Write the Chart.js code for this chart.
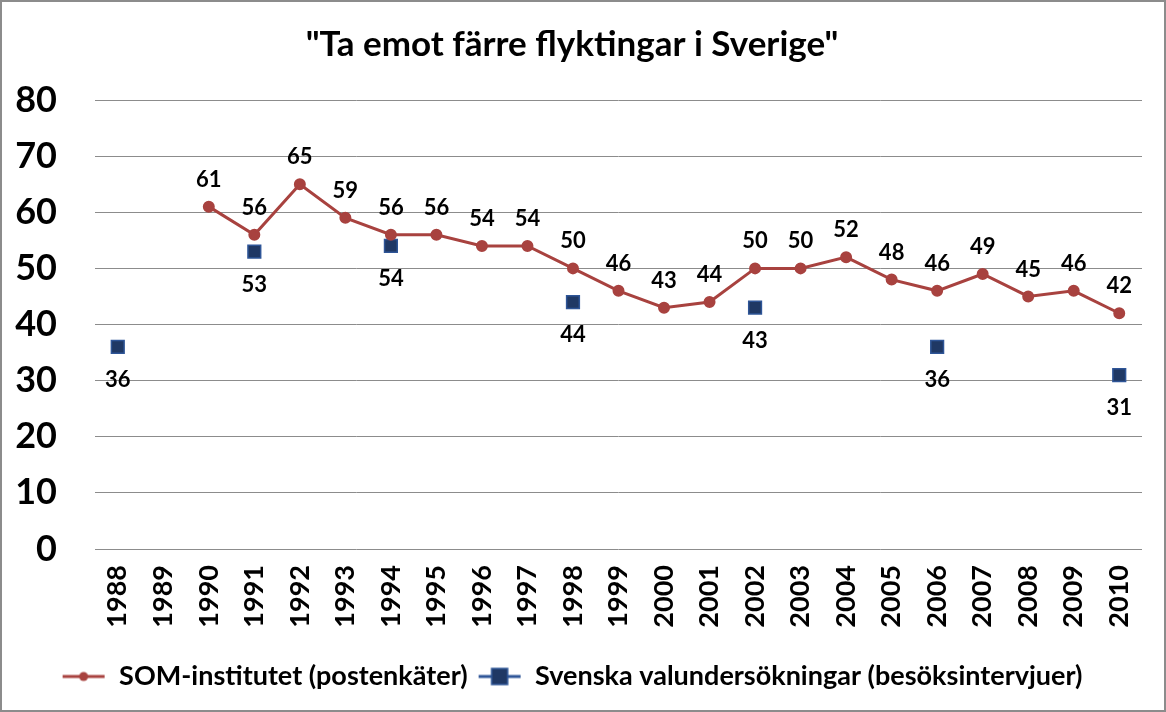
<!DOCTYPE html>
<html>
<head>
<meta charset="utf-8">
<script src="https://cdn.jsdelivr.net/npm/chart.js@4"></script>
<style>
  html, body { margin: 0; padding: 0; background: #fff; }
  #wrap { width: 1166px; height: 712px; box-sizing: border-box; border: 2px solid #8c8c8c; position: relative; }
</style>
</head>
<body>
<div id="wrap"><canvas id="chart"></canvas></div>
<script>
const years = ["1988","1989","1990","1991","1992","1993","1994","1995","1996","1997","1998","1999",
  "2000","2001","2002","2003","2004","2005","2006","2007","2008","2009","2010"];
const somValues = [null, null, 61, 56, 65, 59, 56, 56, 54, 54, 50, 46, 43, 44, 50, 50, 52, 48, 46, 49, 45, 46, 42];
const valuValues = [36, null, null, 53, null, null, 54, null, null, null, 44, null, null, null, 43, null, null, null, 36, null, null, null, 31];
const yTicks = [0, 10, 20, 30, 40, 50, 60, 70, 80];

const RED = "#a8423f";
const BLUE = "#1f3864";
const BLUE_EDGE = "#2e5597";
const FONT = "Lato";

// legend icons: short line with marker on it
function legendIcon(kind) {
  const c = document.createElement("canvas");
  c.width = 44; c.height = 20;
  const g = c.getContext("2d");
  g.lineWidth = 3;
  g.strokeStyle = kind === "circle" ? RED : BLUE_EDGE;
  g.beginPath(); g.moveTo(1, 10); g.lineTo(43, 10); g.stroke();
  if (kind === "circle") {
    g.fillStyle = RED;
    g.beginPath(); g.arc(22, 10, 4.5, 0, Math.PI * 2); g.fill();
  } else {
    g.fillStyle = BLUE;
    g.fillRect(14, 2, 16, 16);
    g.strokeStyle = BLUE_EDGE; g.lineWidth = 1.5;
    g.strokeRect(14, 2, 16, 16);
  }
  return c;
}

// value labels: SOM above, valu below
const valueLabels = {
  id: "valueLabels",
  afterDatasetsDraw(chart) {
    const ctx = chart.ctx;
    ctx.save();
    ctx.font = "bold 22px " + FONT;
    ctx.fillStyle = "#000";
    ctx.textAlign = "center";
    ctx.textBaseline = "middle";
    chart.data.datasets.forEach((ds, i) => {
      const meta = chart.getDatasetMeta(i);
      meta.data.forEach((pt, j) => {
        const v = ds.data[j];
        if (v == null) return;
        const dy = i === 0 ? -27 : 33;
        ctx.fillText(String(v), pt.x, pt.y + dy);
      });
    });
    ctx.restore();
  }
};

new Chart(document.getElementById("chart"), {
  type: "line",
  data: {
    labels: years,
    datasets: [
      {
        label: "SOM-institutet (postenkäter)",
        data: somValues,
        borderColor: RED,
        backgroundColor: RED,
        borderWidth: 3,
        pointRadius: 4.5,
        pointStyle: "circle",
        pointBackgroundColor: RED,
        pointBorderColor: RED,
        tension: 0,
      },
      {
        label: "Svenska valundersökningar (besöksintervjuer)",
        data: valuValues,
        showLine: false,
        borderColor: BLUE_EDGE,
        backgroundColor: BLUE,
        pointStyle: "rect",
        pointRadius: 9,
        pointBorderWidth: 1.5,
        pointBackgroundColor: BLUE,
        pointBorderColor: BLUE_EDGE,
      },
    ],
  },
  options: {
    responsive: true,
    maintainAspectRatio: false,
    animation: false,
    layout: { padding: { left: 0, right: 22, top: 0, bottom: 10 } },
    plugins: {
      title: {
        display: true,
        text: "\"Ta emot färre flyktingar i Sverige\"",
        color: "#000",
        font: { family: FONT, size: 35, weight: "bold" },
        padding: { top: 22, bottom: 34 },
      },
      legend: {
        position: "bottom",
        labels: {
          color: "#000",
          font: { family: FONT, size: 27, weight: "bold" },
          usePointStyle: true,
          pointStyleWidth: 44,
          padding: 10,
          generateLabels(chart) {
            return chart.data.datasets.map((ds, i) => ({
              text: ds.label,
              datasetIndex: i,
              pointStyle: legendIcon(i === 0 ? "circle" : "rect"),
              fontColor: "#000",
              lineWidth: 0,
              hidden: false,
            }));
          },
        },
      },
      tooltip: { enabled: false },
    },
    scales: {
      x: {
        offset: true,
        grid: { display: false },
        border: { display: false },
        ticks: {
          color: "#000",
          font: { family: FONT, size: 27, weight: "bold" },
          maxRotation: 90,
          minRotation: 90,
          padding: 8,
        },
        afterFit(s) { s.height = 104; },
      },
      y: {
        min: 0,
        max: 80,
        afterBuildTicks(s) { s.ticks = yTicks.map(v => ({ value: v })); },
        grid: { color: "#8c8c8c", lineWidth: 1, drawTicks: false },
        border: { display: false },
        ticks: {
          color: "#000",
          font: { family: FONT, size: 36, weight: "bold" },
          padding: 38,
        },
        afterFit(s) { s.width = 93; },
      },
    },
  },
  plugins: [valueLabels],
});
</script>
</body>
</html>
